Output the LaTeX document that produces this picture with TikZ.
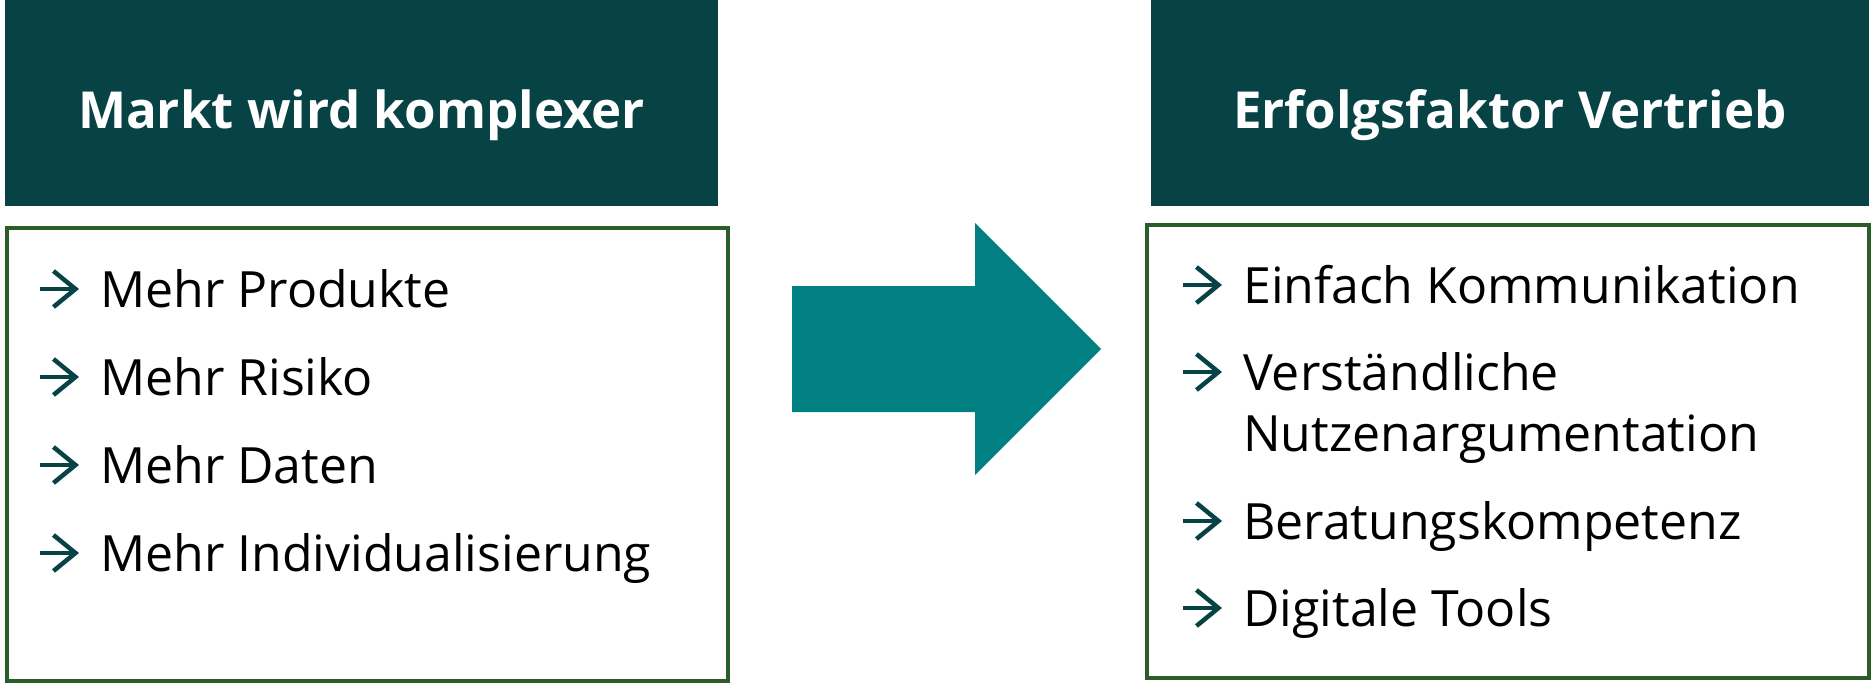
\documentclass[tikz,border=0pt]{standalone}
\usepackage{fontspec}
\setmainfont{Open Sans}
\usepackage{xcolor}
\usetikzlibrary{arrows.meta,positioning}

\definecolor{kopfgruen}{HTML}{074245}
\definecolor{randgruen}{HTML}{2A5D27}
\definecolor{pfeilteal}{HTML}{008080}

\begin{document}
\begin{tikzpicture}[
    x=1pt, y=1pt,
    kopf/.style={
    rectangle,
    fill=kopfgruen,
    text=white,
    inner sep=0pt,
    outer sep=0pt,
    minimum height=206pt,
    text height=50pt,
    text depth=0pt,
    font=\fontsize{51}{60}\selectfont\bfseries},
    liste/.style={
    rectangle,
    draw=randgruen,
    line width=4pt,
    inner sep=0pt,
    outer sep=0pt,
    minimum height=453pt},
    eintrag/.style={
    anchor=base west,
    inner sep=0pt,
    align=left,
    font=\fontsize{50}{61}\selectfont},
    spiegel/.style={
    line width=4.5pt,
    draw=kopfgruen,
    -{Straight Barb[length=22pt,width=36pt]}},
    node distance=88pt
    ]
    \useasboundingbox (0,0) rectangle (1876,-685);

    % Kopfzeilen
    \node[kopf, minimum width=713pt] (kopfA) at (361.5,-103) {Markt wird komplexer};
    \node[kopf, minimum width=718pt] (kopfB) at (1510,-103) {Erfolgsfaktor Vertrieb};

    % Listen
    \node[liste, minimum width=721pt] (listeA) at (367.5,-454.5) {};
    \node[liste, minimum width=722pt] (listeB) at (1508,-451.5) {};

    % grosser Pfeil
    \fill[pfeilteal] (792,-286) -- (975,-286) -- (975,-223) -- (1101,-349)
      -- (975,-475) -- (975,-412) -- (792,-412) -- cycle;

    % links
    \node[eintrag] (l1) at (100,-307) {Mehr Produkte};
    \node[eintrag, below=88pt of l1.base west, anchor=base west] (l2) {Mehr Risiko};
    \node[eintrag, below=88pt of l2.base west, anchor=base west] (l3) {Mehr Daten};
    \node[eintrag, below=88pt of l3.base west, anchor=base west] (l4) {Mehr Individualisierung};

    % rechts
    \node[eintrag] (r1) at (1243,-303) {Einfach Kommunikation};
    \node[eintrag, below=148pt of r1.base west, anchor=base west] (r2) {Verständliche\\Nutzenargumentation};
    \node[eintrag, below=88pt of r2.base west, anchor=base west] (r3) {Beratungskompetenz};
    \node[eintrag, below=87pt of r3.base west, anchor=base west] (r4) {Digitale Tools};

    \foreach \n/\h in {l1/18,l2/18,l3/18,l4/18,r1/18,r2/79,r3/18,r4/18}
      \draw[spiegel] ([xshift=-60pt,yshift=\h pt]\n.base west) -- ++(39pt,0);
\end{tikzpicture}
\end{document}
